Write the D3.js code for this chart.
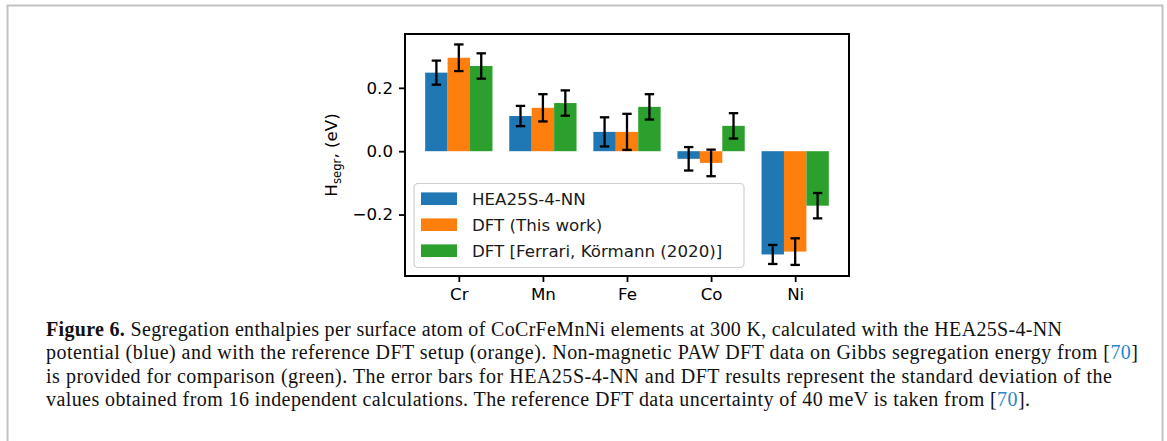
<!DOCTYPE html>
<html>
<head>
<meta charset="utf-8">
<script src="https://cdn.jsdelivr.net/npm/d3@7"></script>
<style>
  body { margin: 0; background: #fff; }
  svg { display: block; }
</style>
</head>
<body>
<div class="canvas"></div>
<script>
// data
const elements = ['Cr', 'Mn', 'Fe', 'Co', 'Ni'];
const seriesNames = ['HEA25S-4-NN', 'DFT (This work)', 'DFT [Ferrari, Körmann (2020)]'];
const nnValues = [0.248, 0.111, 0.061, -0.024, -0.326];
const nnErrors = [0.038, 0.032, 0.046, 0.037, 0.030];
const dftValues = [0.295, 0.137, 0.061, -0.037, -0.317];
const dftErrors = [0.042, 0.043, 0.057, 0.042, 0.042];
const refValues = [0.269, 0.152, 0.140, 0.080, -0.172];
const refErrors = [0.040, 0.040, 0.040, 0.040, 0.040];
const yTicks = [-0.2, 0.0, 0.2];
const colours = ['#1f77b4', '#ff7f0e', '#2ca02c'];

const captionLines = [
  [{ t: 'Figure 6.', b: true }, { t: ' Segregation enthalpies per surface atom of CoCrFeMnNi elements at 300 K, calculated with the HEA25S-4-NN' }],
  [{ t: 'potential (blue) and with the reference DFT setup (orange). Non-magnetic PAW DFT data on Gibbs segregation energy from ' }, { t: '[', }, { t: '70', link: true }, { t: ']' }],
  [{ t: 'is provided for comparison (green). The error bars for HEA25S-4-NN and DFT results represent the standard deviation of the' }],
  [{ t: 'values obtained from 16 independent calculations. The reference DFT data uncertainty of 40 meV is taken from ' }, { t: '[' }, { t: '70', link: true }, { t: '].' }],
];
const captionEnds = [1062, 1138, 1112, 1030];

const series = [
  { values: nnValues, errors: nnErrors },
  { values: dftValues, errors: dftErrors },
  { values: refValues, errors: refErrors },
];

const dims = { width: 1167, height: 441 };
const plot = { left: 405, right: 849, top: 34, bottom: 276 };
const barWidth = 0.8 / 3;
const fontSize = '16.67px';

const svg = d3
  .select('.canvas')
  .append('svg')
  .attr('width', dims.width)
  .attr('height', dims.height);

// page frame
svg
  .append('path')
  .attr('d', `M7.5,441 V5.5 H1162.5 V441`)
  .attr('fill', 'none')
  .attr('stroke', '#c2c2c2')
  .attr('stroke-width', 2);

const x = d3.scaleLinear().domain([-0.64, 4.64]).range([plot.left, plot.right]);
const y = d3.scaleLinear().domain([-0.394, 0.370]).range([plot.bottom, plot.top]);

const graph = svg.append('g');

// bars
series.forEach((s, k) => {
  const offset = (k - 1) * barWidth;
  graph
    .append('g')
    .selectAll('rect')
    .data(s.values)
    .enter()
    .append('rect')
    .attr('x', (d, i) => x(i + offset - barWidth / 2))
    .attr('width', (d, i) => x(i + offset + barWidth / 2) - x(i + offset - barWidth / 2))
    .attr('y', (d) => y(Math.max(0, d)))
    .attr('height', (d) => Math.abs(y(d) - y(0)))
    .attr('fill', colours[k]);
});

// error bars
series.forEach((s, k) => {
  const offset = (k - 1) * barWidth;
  const eb = graph
    .append('g')
    .selectAll('g')
    .data(s.values)
    .enter()
    .append('g')
    .attr('stroke', '#000')
    .attr('stroke-width', 2.3);
  eb.append('line')
    .attr('x1', (d, i) => x(i + offset))
    .attr('x2', (d, i) => x(i + offset))
    .attr('y1', (d, i) => y(d + s.errors[i]))
    .attr('y2', (d, i) => y(d - s.errors[i]));
  [1, -1].forEach((sign) => {
    eb.append('line')
      .attr('x1', (d, i) => x(i + offset) - 4.7)
      .attr('x2', (d, i) => x(i + offset) + 4.7)
      .attr('y1', (d, i) => y(d + sign * s.errors[i]))
      .attr('y2', (d, i) => y(d + sign * s.errors[i]));
  });
});

// axes
const xAxis = d3
  .axisBottom(x)
  .tickValues(d3.range(elements.length))
  .tickFormat((i) => elements[i])
  .tickSizeInner(6)
  .tickSizeOuter(0)
  .tickPadding(6);
const yAxis = d3
  .axisLeft(y)
  .tickValues(yTicks)
  .tickFormat((d) => d3.format('.1f')(d).replace('-', '\u2212'))
  .tickSizeInner(6)
  .tickSizeOuter(0)
  .tickPadding(6);

const gx = svg.append('g').attr('transform', `translate(0, ${plot.bottom})`).call(xAxis);
const gy = svg.append('g').attr('transform', `translate(${plot.left}, 0)`).call(yAxis);
[gx, gy].forEach((g) => {
  g.select('.domain').remove();
  g.selectAll('line').attr('stroke', '#000').attr('stroke-width', 1.8);
  g.selectAll('text')
    .attr('fill', '#000')
    .style('font-family', 'DejaVu Sans')
    .style('font-size', fontSize);
});

// plot frame
svg
  .append('rect')
  .attr('x', plot.left)
  .attr('y', plot.top)
  .attr('width', plot.right - plot.left)
  .attr('height', plot.bottom - plot.top)
  .attr('fill', 'none')
  .attr('stroke', '#000')
  .attr('stroke-width', 2);

// y label
const yLabel = svg
  .append('text')
  .attr('transform', `translate(337, ${(plot.top + plot.bottom) / 2}) rotate(-90)`)
  .attr('text-anchor', 'middle')
  .style('font-family', 'DejaVu Sans')
  .style('font-size', fontSize)
  .attr('fill', '#000');
yLabel.append('tspan').text('H');
yLabel.append('tspan').attr('dy', 4).style('font-size', '11.7px').text('segr');
yLabel.append('tspan').attr('dy', -4).text(', (eV)');

// legend
const legendGroup = svg.append('g').attr('transform', 'translate(414, 183.5)');
legendGroup
  .append('rect')
  .attr('width', 330)
  .attr('height', 84)
  .attr('rx', 4)
  .attr('fill', 'rgba(255,255,255,0.8)')
  .attr('stroke', '#d0d0d0')
  .attr('stroke-width', 1.2);
const items = legendGroup
  .selectAll('g.item')
  .data(seriesNames)
  .enter()
  .append('g')
  .attr('class', 'item')
  .attr('transform', (d, i) => `translate(7, ${15.2 + i * 26})`);
items
  .append('rect')
  .attr('y', -6.3)
  .attr('width', 36)
  .attr('height', 12.6)
  .attr('fill', (d, i) => colours[i]);
items
  .append('text')
  .attr('x', 51)
  .attr('dy', '0.36em')
  .style('font-family', 'DejaVu Sans')
  .style('font-size', fontSize)
  .attr('fill', '#1a1a1a')
  .text((d) => d);

// caption
const caption = svg
  .append('g')
  .style('font-family', 'Liberation Serif, DejaVu Serif, serif')
  .style('font-size', '20px')
  .attr('fill', '#111');
captionLines.forEach((parts, li) => {
  const t = caption
    .append('text')
    .attr('x', 46)
    .attr('y', 336 + li * 23.4)
    .attr('textLength', captionEnds[li] - 46)
    .attr('lengthAdjust', 'spacing');
  parts.forEach((p) => {
    t.append('tspan')
      .attr('font-weight', p.b ? 'bold' : null)
      .attr('fill', p.link ? '#2a86c4' : null)
      .text(p.t);
  });
});
</script>
</body>
</html>
